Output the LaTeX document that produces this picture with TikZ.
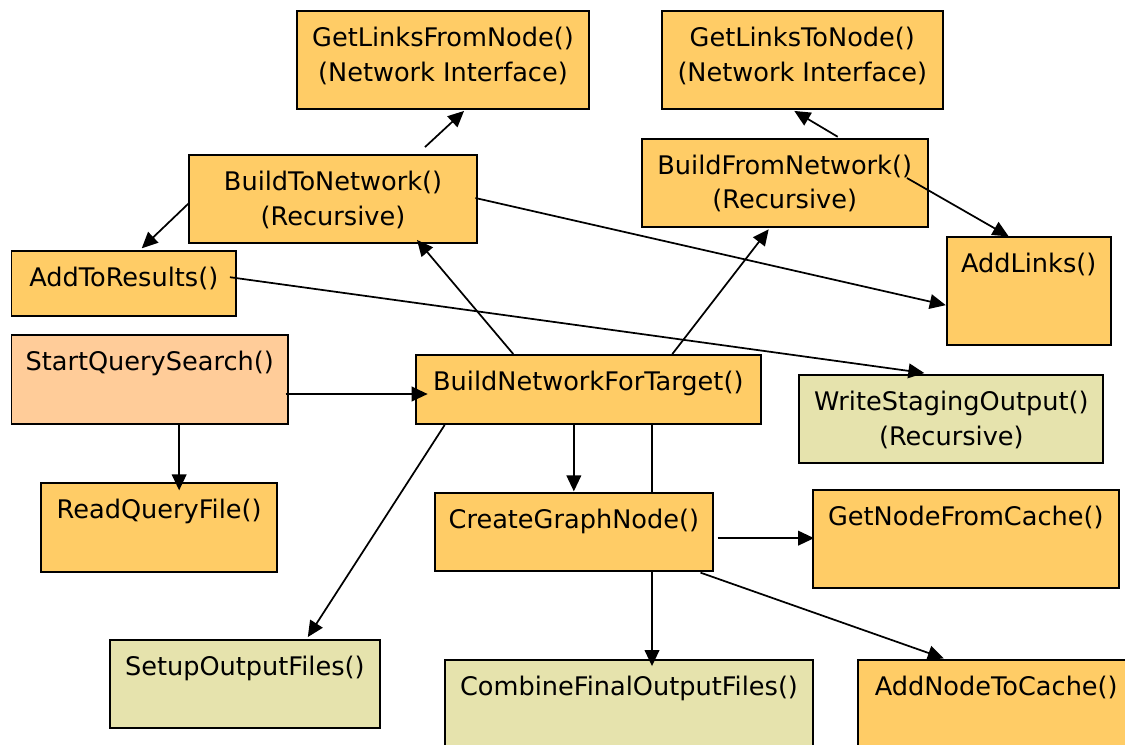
\documentclass[tikz,border=0pt]{standalone}
\usepackage{fontspec}
\setmainfont{DejaVu Sans}
\usetikzlibrary{arrows.meta,calc}
\definecolor{boxorange}{HTML}{FFCC66}
\definecolor{boxpeach}{HTML}{FFCC99}
\definecolor{boxkhaki}{HTML}{E6E3AD}
\tikzset{
  box/.style={draw=black, line width=1.4pt, rectangle, inner sep=0pt},
  boxtext/.style={anchor=base, align=center, inner sep=0pt,
    font=\fontsize{19.2}{25.9}\selectfont},
  arr/.style={draw=black, line width=1.3pt, -{Triangle[length=12pt,width=11pt]}},
  plainline/.style={draw=black, line width=1.3pt},
}
% #8 = number of extra lines below the first one
\newcommand\mkbox[8]{%
  \node[box, fill=#6, minimum width={(#4-#2)*0.75pt}, minimum height={(#5-#3)*0.75pt}]
    (#1) at ({(#2+#4)/2},{(#3+#5)/2}) {};
  \node[boxtext] (#1-t) at ({(#2+#4)/2},{#3+35.5+#8*34.5}) {#7};
}
\begin{document}
\begin{tikzpicture}[x=0.75pt,y=-0.75pt]
\path[use as bounding box] (0,0) rectangle (1125,744);
\clip (0,0) rectangle (1125,744);
\fill[white] (0,0) rectangle (1125,744);

\mkbox{glf}{297}{11}{589}{109}{boxorange}{GetLinksFromNode()\\(Network Interface)}{1}
\mkbox{gltn}{661.6}{11}{943}{109}{boxorange}{GetLinksToNode()\\(Network Interface)}{1}
\mkbox{btn}{189}{155}{477}{243}{boxorange}{BuildToNetwork()\\(Recursive)}{1}
\mkbox{bfn}{641.8}{138.7}{927.6}{227.3}{boxorange}{BuildFromNetwork()\\(Recursive)}{1}
\mkbox{atr}{11.5}{250.7}{236}{315.7}{boxorange}{AddToResults()}{0}
\mkbox{al}{946.7}{237.3}{1110.6}{345}{boxorange}{AddLinks()}{0}
\mkbox{sqs}{11.5}{335}{287.8}{424}{boxpeach}{StartQuerySearch()}{0}
\mkbox{bnt}{415.6}{355}{761}{424}{boxorange}{BuildNetworkForTarget()}{0}
\mkbox{wso}{799.3}{375}{1103.4}{463.3}{boxkhaki}{WriteStagingOutput()\\(Recursive)}{1}
\mkbox{rqf}{41.3}{483.3}{277}{571.7}{boxorange}{ReadQueryFile()}{0}
\mkbox{cgn}{434.7}{493.3}{713}{571}{boxorange}{CreateGraphNode()}{0}
\mkbox{gnfc}{813}{490}{1118.6}{588.3}{boxorange}{GetNodeFromCache()}{0}
\mkbox{sof}{110}{640}{379.6}{728.3}{boxkhaki}{SetupOutputFiles()}{0}
\mkbox{cfo}{444.7}{660}{813.3}{790}{boxkhaki}{CombineFinalOutputFiles()}{0}
\mkbox{antc}{858.4}{660}{1134}{790}{boxorange}{AddNodeToCache()}{0}

% connectors
\draw[arr] ($(btn.north)+(92,-7)$) -- ($(glf.south)+(21,1)$);
\draw[arr] ($(btn.west)+(1,4)$) -- ($(atr.north)+(18,-1.5)$);
\draw[arr] ($(btn.east)+(-2.5,-1)$) -- ($(al.west)+(0,14)$);
\draw[arr] ($(bfn.north)+(53,-1)$) -- ($(gltn.south)+(-8,1)$);
\draw[arr] ($(bfn.east)+(-21.6,-5)$) -- ($(al.north)+(-20,0)$);
\draw[arr] ($(bnt.north)+(-75,0)$) -- ($(btn.south)+(84,-4)$);
\draw[arr] ($(bnt.north)+(84,0)$) -- ($(bfn.south)+(-16,1)$);
\draw[arr] ($(atr.east)+(-7,-6)$) -- ($(wso.north)+(-27,-1)$);
\draw[arr] ($(sqs.east)+(-3,14.5)$) -- ($(bnt.west)+(13,4.5)$);
\draw[arr] ($(sqs.south)+(29.5,0)$) -- ($(rqf.north)+(20,8)$);
\draw[arr] ($(bnt.south)+(-143.6,0)$) -- ($(sof.north)+(63,-2)$);
\draw[arr] (cgn.north |- bnt.south) -- ($(cgn.north)+(0,-1)$);
\draw[plainline] ($(bnt.south)+(63.7,0)$) -- ($(cgn.north)+(78.15,0)$);
\draw[arr] ($(cgn.east)+(3.8,6)$) -- ($(gnfc.west)+(2,-1)$);
\draw[arr] ($(cgn.south)+(78.15,0)$) -- ($(cfo.north)+(23,7)$);
\draw[arr] ($(cgn.south)+(126.65,0.7)$) -- ($(antc.north)+(-52.4,-0.7)$);
\end{tikzpicture}
\end{document}
